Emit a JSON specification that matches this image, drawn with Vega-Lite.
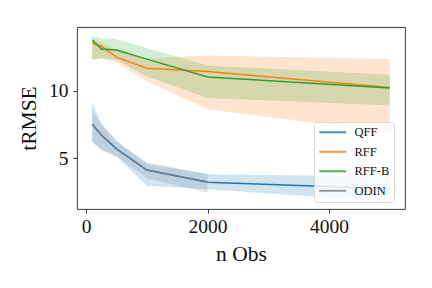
{
  "$schema": "https://vega.github.io/schema/vega-lite/v6.json",
  "width": 328,
  "height": 182,
  "autosize": {"type": "none"},
  "padding": {"left": 77, "top": 27, "right": 27, "bottom": 79},
  "background": "white",
  "config": {
    "view": {"stroke": "#222222", "strokeWidth": 0.9},
    "font": "Liberation Serif",
    "axis": {
      "grid": false,
      "domain": false,
      "tickColor": "#222222",
      "tickSize": 4,
      "tickWidth": 0.9,
      "labelFont": "Liberation Serif",
      "labelFontSize": 19.5,
      "labelColor": "#111111",
      "titleFont": "Liberation Serif",
      "titleFontSize": 21.5,
      "titleFontWeight": "normal",
      "titleColor": "#111111"
    },
    "legend": {
      "orient": "none",
      "legendX": 237,
      "legendY": 95,
      "labelFont": "Liberation Serif",
      "labelFontSize": 12.5,
      "labelColor": "#111111",
      "labelOffset": 24,
      "rowPadding": 6.5,
      "padding": 4,
      "strokeColor": "#d8d8d8",
      "fillColor": "rgba(255,255,255,0.8)",
      "cornerRadius": 3
    }
  },
  "data": {
    "values": [
      {"model": "QFF", "n": 100, "mean": 7.53, "lo": 6.24, "hi": 9.09},
      {"model": "QFF", "n": 250, "mean": 6.73, "lo": 5.62, "hi": 7.6},
      {"model": "QFF", "n": 500, "mean": 5.7, "lo": 5.12, "hi": 6.25},
      {"model": "QFF", "n": 1000, "mean": 4.13, "lo": 2.97, "hi": 4.68},
      {"model": "QFF", "n": 2000, "mean": 3.22, "lo": 2.7, "hi": 3.82},
      {"model": "QFF", "n": 5000, "mean": 2.75, "lo": 1.78, "hi": 3.64},
      {"model": "RFF", "n": 100, "mean": 13.54, "lo": 12.3, "hi": 13.8},
      {"model": "RFF", "n": 250, "mean": 13.3, "lo": 12.4, "hi": 13.6},
      {"model": "RFF", "n": 500, "mean": 12.5, "lo": 12.1, "hi": 13.0},
      {"model": "RFF", "n": 1000, "mean": 11.68, "lo": 10.7, "hi": 12.4},
      {"model": "RFF", "n": 2000, "mean": 11.43, "lo": 8.64, "hi": 12.62},
      {"model": "RFF", "n": 5000, "mean": 10.25, "lo": 6.9, "hi": 12.35},
      {"model": "RFF-B", "n": 100, "mean": 13.79, "lo": 12.3, "hi": 14.08},
      {"model": "RFF-B", "n": 250, "mean": 13.1, "lo": 12.43, "hi": 13.9},
      {"model": "RFF-B", "n": 500, "mean": 13.02, "lo": 12.3, "hi": 13.83},
      {"model": "RFF-B", "n": 1000, "mean": 12.35, "lo": 11.06, "hi": 13.17},
      {"model": "RFF-B", "n": 2000, "mean": 11.03, "lo": 9.46, "hi": 11.88},
      {"model": "RFF-B", "n": 5000, "mean": 10.2, "lo": 8.91, "hi": 11.19},
      {"model": "ODIN", "n": 100, "mean": 7.53, "lo": 6.17, "hi": 8.6},
      {"model": "ODIN", "n": 250, "mean": 6.73, "lo": 5.68, "hi": 7.5},
      {"model": "ODIN", "n": 500, "mean": 5.7, "lo": 5.15, "hi": 6.3},
      {"model": "ODIN", "n": 1000, "mean": 4.13, "lo": 3.52, "hi": 4.58},
      {"model": "ODIN", "n": 2000, "mean": 3.25, "lo": 2.45, "hi": 3.85}
    ]
  },
  "encoding": {
    "x": {
      "field": "n",
      "type": "quantitative",
      "scale": {"domain": [-150, 5250], "nice": false, "zero": false},
      "axis": {"values": [0, 2000, 4000], "format": "d", "title": "n Obs", "titlePadding": 8, "labelPadding": 4}
    }
  },
  "layer": [
    {
      "mark": {"type": "area", "opacity": 0.2},
      "encoding": {
        "y": {
          "field": "lo",
          "type": "quantitative",
          "scale": {"domain": [1.24, 14.73], "nice": false, "zero": false},
          "axis": {"values": [5, 10], "title": "tRMSE", "titlePadding": 8, "labelPadding": 5}
        },
        "y2": {"field": "hi"},
        "fill": {
          "field": "model",
          "type": "nominal",
          "scale": {
            "domain": ["QFF", "RFF", "RFF-B", "ODIN"],
            "range": ["#1f77b4", "#ff7f0e", "#2ca02c", "#708090"]
          },
          "legend": null
        }
      }
    },
    {
      "mark": {"type": "line", "strokeWidth": 1.5},
      "encoding": {
        "y": {"field": "mean", "type": "quantitative"},
        "stroke": {
          "field": "model",
          "type": "nominal",
          "scale": {
            "domain": ["QFF", "RFF", "RFF-B", "ODIN"],
            "range": ["#1f77b4", "#ff7f0e", "#2ca02c", "#708090"]
          },
          "legend": {
            "title": null,
            "symbolType": "M-1,0H4.4",
            "symbolSize": 100,
            "symbolStrokeWidth": 2,
            "symbolOpacity": 0.8
          }
        }
      }
    }
  ],
  "resolve": {"legend": {"stroke": "independent", "fill": "independent"}}
}
